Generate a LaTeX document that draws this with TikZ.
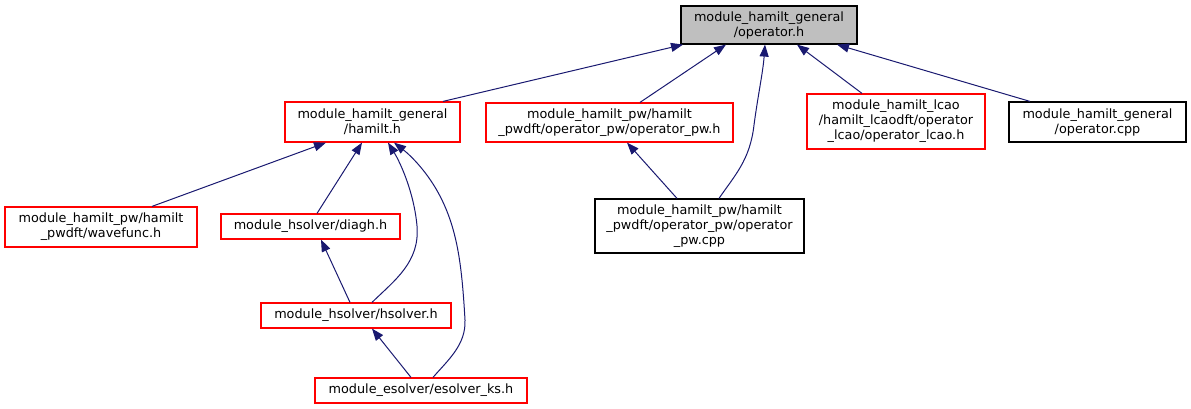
\documentclass[tikz,border=0pt]{standalone}
\usepackage{fontspec}
\setmainfont{DejaVu Sans}
\usetikzlibrary{arrows.meta,calc}
\definecolor{edgeblue}{HTML}{191970}
\definecolor{graybox}{HTML}{BFBFBF}
\definecolor{boxred}{HTML}{FF0000}
\begin{document}
\begin{tikzpicture}[x=1pt,y=-1pt,
  box/.style={draw=black,line width=1.2pt,inner sep=0pt,align=center,
    font=\fontsize{12.8}{15}\selectfont},
  redbox/.style={box,draw=boxred},
  edge/.style={draw=edgeblue,line width=1pt,-{Triangle[length=12pt,width=9pt]}}]
\useasboundingbox (0,0) rectangle (1191,409);
\node[box,fill=graybox,minimum width=176,minimum height=38] (oph) at (769,25) {module\_hamilt\_general\\/operator.h};
\node[redbox,minimum width=175,minimum height=40] (hamilt) at (372.5,122) {module\_hamilt\_general\\/hamilt.h};
\node[redbox,minimum width=247,minimum height=39] (oppwh) at (609.5,122.5) {module\_hamilt\_pw/hamilt\\\_pwdft/operator\_pw/operator\_pw.h};
\node[redbox,minimum width=178,minimum height=55] (lcao) at (896,121.5) {module\_hamilt\_lcao\\/hamilt\_lcaodft/operator\\\_lcao/operator\_lcao.h};
\node[box,minimum width=177,minimum height=40] (opcpp) at (1097.5,122) {module\_hamilt\_general\\/operator.cpp};
\node[redbox,minimum width=192,minimum height=40] (wavefunc) at (101,227) {module\_hamilt\_pw/hamilt\\\_pwdft/wavefunc.h};
\node[redbox,minimum width=179,minimum height=25] (diagh) at (310.5,226.5) {module\_hsolver/diagh.h};
\node[box,minimum width=209,minimum height=54] (oppwcpp) at (699.5,226) {module\_hamilt\_pw/hamilt\\\_pwdft/operator\_pw/operator\\\_pw.cpp};
\node[redbox,minimum width=190,minimum height=25] (hsolver) at (356,315.5) {module\_hsolver/hsolver.h};
\node[redbox,minimum width=212,minimum height=25] (esolver) at (421,390.5) {module\_esolver/esolver\_ks.h};

\draw[edge] ($(hamilt.north)+(70.5,0)$) -- ($(oph.south)+(-86,0)$);
\draw[edge] ($(oppwh.north)+(30.5,0)$) -- ($(oph.south)+(-43,0)$);
\draw[edge] ($(oppwcpp.north)+(19.5,0)$) .. controls (735,175) and (750,160) .. (754,125) .. controls (758,95) and (763,72) .. ($(oph.south)+(-4,0)$);
\draw[edge] ($(lcao.north)+(-34,0)$) -- ($(oph.south)+(28,0)$);
\draw[edge] ($(opcpp.north)+(-67.5,0)$) -- ($(oph.south)+(68,0)$);
\draw[edge] ($(wavefunc.north)+(51,0)$) -- ($(hamilt.south)+(-46.5,0)$);
\draw[edge] ($(diagh.north)+(6.5,0)$) -- ($(hamilt.south)+(-10.5,0)$);
\draw[edge] ($(hsolver.north)+(16,0)$) .. controls (395,280) and (420,262) .. (417,226) .. controls (414,192) and (400,162) .. ($(hamilt.south)+(15.5,0)$);
\draw[edge] ($(esolver.north)+(12,0)$) .. controls (448,360) and (466,345) .. (465,320) .. controls (462,268) and (458,232) .. (441,198) .. controls (428,172) and (410,155) .. ($(hamilt.south)+(21.5,0)$);
\draw[edge] ($(hsolver.north)+(-6,0)$) -- ($(diagh.south)+(10.5,0)$);
\draw[edge] ($(esolver.north)+(-10,0)$) -- ($(hsolver.south)+(16,0)$);
\draw[edge] ($(oppwcpp.north)+(-22.5,0)$) -- ($(oppwh.south)+(17.5,0)$);
\end{tikzpicture}
\end{document}
